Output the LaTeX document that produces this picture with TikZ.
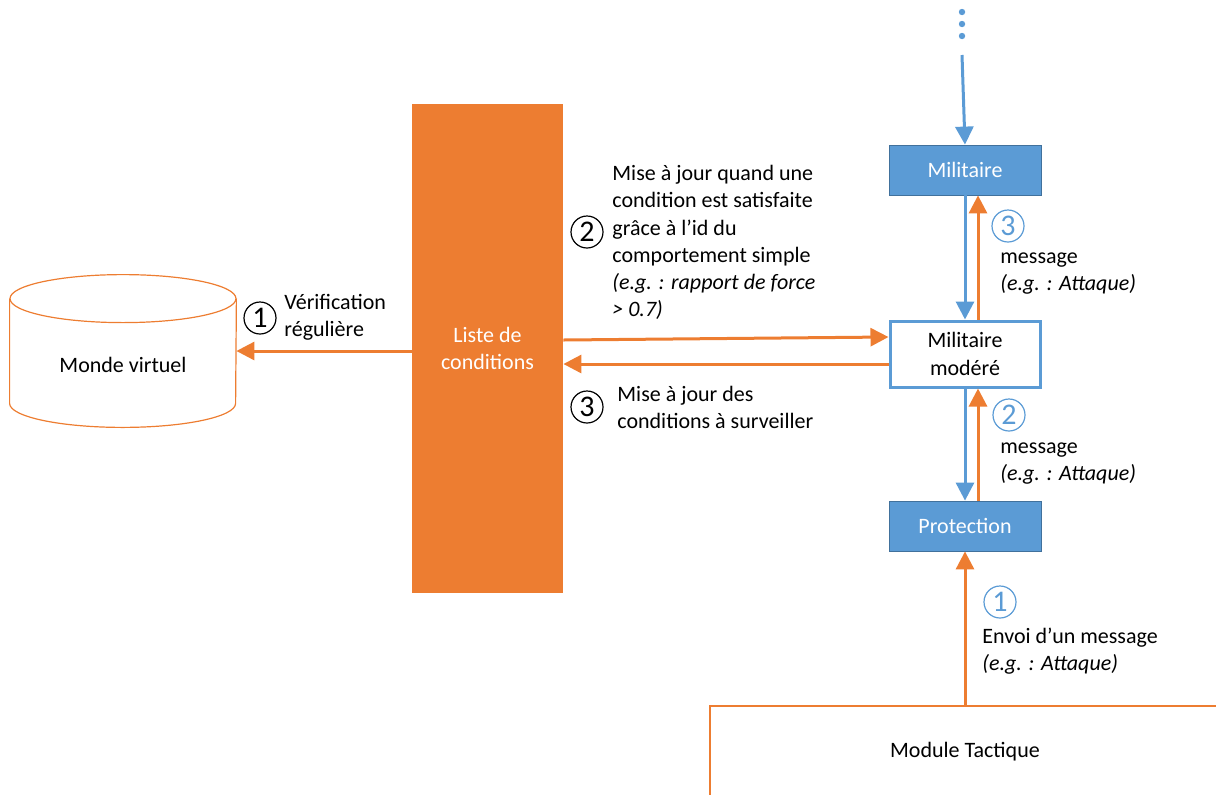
\documentclass[tikz,border=0pt]{standalone}
\usepackage{fontspec}
\setmainfont{Carlito}
\usepackage{xcolor}
\usetikzlibrary{arrows.meta}
\definecolor{orng}{HTML}{ED7D31}
\definecolor{blu}{HTML}{5B9BD5}
\definecolor{bluedark}{HTML}{41719C}

\begin{document}
\begin{tikzpicture}[x=0.5pt,y=-0.5pt,
	every node/.style={font=\fontsize{11}{13.6}\selectfont},
	agent/.style={draw=bluedark, fill=blu, text=white, minimum width=76pt, minimum height=25pt, inner sep=0pt},
	oarrow/.style={draw=orng, line width=1.5pt, -{Triangle[length=9pt,width=9pt]}},
	barrow/.style={draw=blu, line width=1.5pt, -{Triangle[length=9pt,width=9pt]}},
	num/.style={circle, draw, line width=0.6pt, inner sep=0pt, minimum size=16pt, font=\fontsize{15}{15}\selectfont},
	bnum/.style={num, draw=blu, text=blu},
	txt/.style={anchor=west, align=left, inner sep=0pt}]
			\clip (0,0) rectangle (1216,794);
			\node at (123, 351) (monde) [minimum width=113pt, minimum height=52pt, inner sep=0pt] {\raisebox{-10.5pt}[0pt][0pt]{Monde virtuel}};
			\draw[orng, line width=0.6pt] (monde.north west) -- (monde.south west) arc[start angle=180, end angle=360, x radius=56.5pt, y radius=12pt] -- (monde.north east);
			\draw[orng, line width=0.6pt] (monde.north) ellipse[x radius=56.5pt, y radius=12pt];
			\node at (487.5, 348.5) (liste) [fill=orng, text=white, align=center, minimum width=75.5pt, minimum height=244.5pt, inner sep=0pt] {Liste de\\conditions};
			\node at (965, 170) (militaire) [agent] {Militaire};
			\node at (965, 354) (modere) [draw=blu, line width=1.5pt, fill=white, align=center, minimum width=75pt, minimum height=33pt, inner sep=0pt] {Militaire\\modéré};
			\node at (965, 526) (protection) [agent] {Protection};
			\node at (965, 752) (module) [draw=orng, line width=0.6pt, minimum width=255pt, minimum height=46pt, inner sep=0pt] {Module Tactique};
			\coordinate (haut) at (962, 55);
			\foreach \y in {12, 24, 36}
				\fill[blu] (962, \y) circle (1.6pt);
			\draw[barrow] (haut) -- (militaire.north);
			\draw[oarrow] (liste.west |- monde.east) -- (monde.east);
			\draw[oarrow] ([yshift=4.25pt]liste.east) -- ([yshift=8.5pt]modere.west);
			\draw[oarrow] ([yshift=-5pt]modere.west) -- ([yshift=-7.75pt]liste.east);
			\draw[barrow] (militaire.south) -- (modere.north);
			\draw[oarrow] ([xshift=6.5pt]modere.north) -- ([xshift=6.5pt]militaire.south);
			\draw[barrow] (modere.south) -- (protection.north);
			\draw[oarrow] ([xshift=6.5pt]protection.north) -- ([xshift=6.5pt]modere.south);
			\draw[oarrow] (module.north) -- (protection.south);
			\node at (260, 318) (n1) [num] {1};
			\node at (284, 317) (verif) [txt] {Vérification\\régulière};
			\node at (587, 232) (n2) [num] {2};
			\node at (612, 242.5) (majcond) [txt] {Mise à jour quand une\\condition est satisfaite\\grâce à l’id du\\comportement simple\\\textit{(e.g. : rapport de force}\\\textit{> 0.7)}};
			\node at (587, 407) (n3) [num] {3};
			\node at (617, 407.5) (majsurv) [txt] {Mise à jour des\\conditions à surveiller};
			\node at (1008, 226) (b3) [bnum] {3};
			\node at (1000, 273.5) (msg3) [txt] {message\\\textit{(e.g. : Attaque)}};
			\node at (1009, 415) (b2) [bnum] {2};
			\node at (1000, 463.5) (msg2) [txt] {message\\\textit{(e.g. : Attaque)}};
			\node at (1000, 602) (b1) [bnum] {1};
			\node at (982, 651.5) (envoi) [txt] {Envoi d’un message\\\textit{(e.g. : Attaque)}};
\end{tikzpicture}
\end{document}
